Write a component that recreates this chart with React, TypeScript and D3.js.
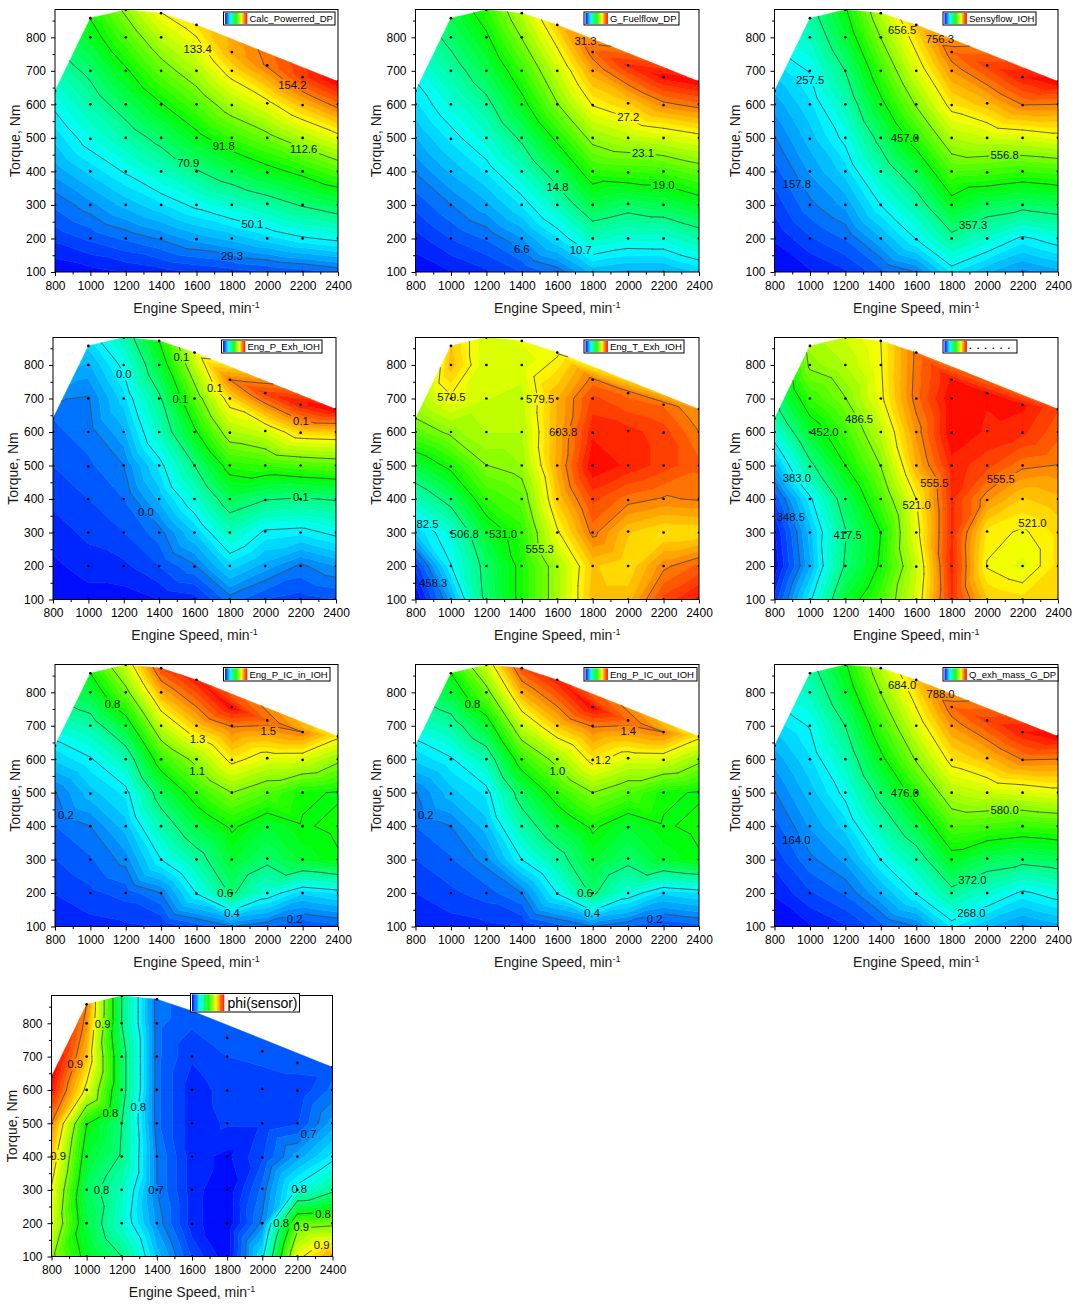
import React, { useEffect, useRef } from "react";
import * as d3 from "d3";

// ---- measured operating points ----
const speeds = [800, 1000, 1200, 1400, 1600, 1800, 2000, 2200, 2400];
const torques = [
  [100, 200, 300, 400, 500, 600, 640],
  [100, 200, 300, 400, 497, 600, 700, 800, 857],
  [100, 200, 300, 400, 500, 600, 700, 800, 882],
  [100, 200, 300, 400, 500, 600, 700, 800, 872],
  [100, 198, 300, 400, 500, 600, 700, 837],
  [100, 200, 300, 400, 500, 598, 700, 756],
  [100, 200, 303, 397, 500, 603, 716],
  [100, 200, 300, 400, 500, 598, 681],
  [100, 200, 300, 400, 500, 600, 668],
];

// ---- series values, one list per speed ----
const calcPower = [
  [9, 18, 26, 35, 43, 52, 56],
  [11, 22, 32, 43, 54, 64, 74, 86, 92],
  [13, 26, 39, 51, 64, 77, 90, 104, 115],
  [15, 30, 45, 60, 75, 91, 107, 122, 133],
  [17, 35, 52, 70, 88, 104, 120, 138],
  [19, 39, 58, 79, 100, 119, 138, 147],
  [21, 44, 65, 87, 109, 131, 155],
  [23, 49, 72, 95, 120, 144, 165],
  [26, 52, 78, 104, 130, 157, 175],
];
const fuelFlow = [
  [2.7, 3.8, 5.2, 6.7, 8.2, 9.7, 10.2],
  [3.3, 5, 6.6, 8.4, 10.1, 11.9, 13.7, 15.6, 16.6],
  [4, 5.9, 8, 10, 12.1, 14.2, 16.5, 18.6, 20.3],
  [5, 7.4, 10, 12.6, 15.3, 18.2, 20.6, 23.2, 25],
  [6.1, 9.7, 13, 16.2, 19.5, 23, 25.4, 29],
  [8.5, 12.8, 16.8, 20.3, 23.8, 27.3, 30.2, 32],
  [8, 11.9, 15.9, 20.5, 25, 28.8, 34],
  [8, 12, 16.5, 20.8, 25.7, 30.9, 35],
  [9.2, 13.5, 17.8, 22, 26.6, 31.9, 35.2],
];
const sensyFlow = [
  [60, 80, 105, 130, 156, 185, 200],
  [75, 115, 152, 180, 206, 233, 260, 305, 330],
  [95, 140, 183, 226, 268, 313, 358, 415, 450],
  [130, 195, 258, 317, 377, 442, 500, 558, 600],
  [158, 258, 325, 403, 485, 562, 627, 700],
  [240, 340, 435, 515, 595, 672, 738, 775],
  [200, 295, 395, 505, 615, 710, 805],
  [170, 250, 375, 495, 625, 756, 835],
  [190, 275, 390, 505, 640, 756, 850],
];
const pExh = [
  [0.001, 0.003, 0.006, 0.009, 0.012, 0.015, 0.016],
  [0.002, 0.006, 0.009, 0.012, 0.015, 0.018, 0.0195, 0.027, 0.033],
  [0.002, 0.007, 0.012, 0.016, 0.02, 0.027, 0.034, 0.042, 0.052],
  [0.004, 0.012, 0.018, 0.029, 0.037, 0.05, 0.058, 0.071, 0.08],
  [0.006, 0.019, 0.032, 0.046, 0.06, 0.078, 0.093, 0.115],
  [0.018, 0.034, 0.05, 0.067, 0.085, 0.106, 0.125, 0.14],
  [0.012, 0.026, 0.039, 0.06, 0.088, 0.113, 0.15],
  [0.01, 0.019, 0.037, 0.059, 0.091, 0.126, 0.155],
  [0.012, 0.024, 0.042, 0.061, 0.093, 0.128, 0.16],
];
const tExh = [
  [434, 445, 473, 495, 520, 547, 555],
  [465, 482, 490, 512, 534, 558, 578, 592, 590],
  [510, 512, 522, 540, 555, 565, 570, 570, 570],
  [535, 535, 538, 548, 560, 565, 568, 572, 575],
  [562, 562, 578, 590, 596, 595, 594, 578],
  [592, 590, 606, 615, 628, 622, 615, 606],
  [592, 585, 590, 606, 622, 620, 607],
  [615, 602, 584, 603, 616, 616, 608],
  [625, 610, 585, 604.5, 610, 603.8, 598],
];
const dotted = [
  [330, 316, 320, 335, 362, 392, 405],
  [380, 361, 365, 380, 412, 440, 465, 490, 495],
  [440, 420, 416, 429, 452, 468, 486, 500, 508],
  [470, 455, 452, 470, 487, 503, 518, 520, 521],
  [510, 505, 515, 521, 542, 550, 560, 558],
  [578, 580, 578, 578, 580, 590, 590, 585],
  [535, 520, 526, 550, 572, 582, 584],
  [530, 512, 519, 534, 558, 578, 585],
  [535, 530, 530, 540, 555, 565, 570],
];
const pIcIn = [
  [0.02, 0.06, 0.1, 0.145, 0.185, 0.33, 0.38],
  [0.04, 0.09, 0.14, 0.19, 0.3, 0.4, 0.56, 0.75, 0.85],
  [0.05, 0.12, 0.21, 0.3, 0.38, 0.54, 0.77, 1.03, 1.21],
  [0.06, 0.19, 0.41, 0.55, 0.7, 0.93, 1.18, 1.43, 1.6],
  [0.12, 0.41, 0.57, 0.74, 0.92, 1.11, 1.39, 1.68],
  [0.19, 0.65, 0.77, 0.87, 1.07, 1.32, 1.52, 1.72],
  [0.15, 0.46, 0.67, 0.76, 0.98, 1.24, 1.55],
  [0.1, 0.33, 0.78, 0.84, 0.87, 1.22, 1.51],
  [0.13, 0.37, 0.84, 0.87, 0.84, 1.1, 1.31],
];
const pIcOut = [
  [0.045, 0.08, 0.12, 0.16, 0.195, 0.33, 0.37],
  [0.06, 0.11, 0.155, 0.2, 0.3, 0.39, 0.54, 0.71, 0.8],
  [0.07, 0.14, 0.22, 0.3, 0.37, 0.52, 0.73, 0.96, 1.13],
  [0.08, 0.2, 0.4, 0.53, 0.66, 0.87, 1.1, 1.33, 1.48],
  [0.14, 0.4, 0.545, 0.7, 0.86, 1.04, 1.29, 1.55],
  [0.2, 0.62, 0.73, 0.82, 1.0, 1.23, 1.41, 1.59],
  [0.16, 0.445, 0.64, 0.72, 0.92, 1.15, 1.44],
  [0.12, 0.33, 0.735, 0.79, 0.82, 1.14, 1.4],
  [0.145, 0.36, 0.79, 0.82, 0.79, 1.03, 1.22],
];
const qExh = [
  [62, 83, 109, 135, 162, 192, 208],
  [78, 119, 158, 187, 214, 243, 271, 318, 344],
  [99, 146, 190, 235, 279, 326, 373, 432, 469],
  [135, 203, 269, 330, 393, 461, 521, 582, 625],
  [164, 269, 338, 420, 505, 586, 654, 730],
  [250, 354, 453, 537, 620, 700, 769, 808],
  [208, 307, 411, 526, 641, 740, 839],
  [177, 260, 391, 516, 651, 788, 870],
  [198, 286, 406, 526, 667, 788, 886],
];
const phi = [
  [0.865, 0.885, 0.893, 0.91, 0.93, 0.96, 0.965],
  [0.817, 0.807, 0.8, 0.812, 0.825, 0.89, 0.912, 0.925, 0.93],
  [0.79, 0.767, 0.773, 0.788, 0.79, 0.8, 0.8, 0.79, 0.79],
  [0.738, 0.725, 0.72, 0.72, 0.715, 0.715, 0.715, 0.715, 0.715],
  [0.705, 0.695, 0.695, 0.695, 0.695, 0.695, 0.7, 0.71],
  [0.687, 0.685, 0.686, 0.69, 0.7, 0.702, 0.706, 0.71],
  [0.75, 0.722, 0.715, 0.705, 0.7, 0.7, 0.71],
  [0.89, 0.85, 0.76, 0.73, 0.705, 0.7, 0.71],
  [0.92, 0.855, 0.785, 0.75, 0.73, 0.715, 0.71],
];

// ---- contour levels: lowest, spacing (seven labelled lines between) ----
const calcPowerScale = [8.5, 20.8];
const fuelFlowScale = [2.5, 4.12];
const sensyFlowScale = [58, 99.75];
const pExhScale = [0, 0.02];
const tExhScale = [434, 24.25];
const dottedScale = [314, 34.5];
const pIcInScale = [-0.03, 0.22];
const pIcOutScale = [0, 0.2];
const qExhScale = [60, 104];
const phiScale = [0.685, 0.035];

// ---- contour labels: [speed, torque, text] ----
const calcPowerLabels = [[1606, 765, "133.4"], [2142, 658, "154.2"], [1754, 476, "91.8"], [2206, 466, "112.6"], [1553, 425, "70.9"], [1916, 242, "50.1"], [1801, 148, "29.3"]];
const fuelFlowLabels = [[1759, 790, "31.3"], [2001, 561, "27.2"], [2084, 455, "23.1"], [2200, 358, "19.0"], [1601, 353, "14.8"], [1400, 168, "6.6"], [1732, 165, "10.7"]];
const sensyFlowLabels = [[1520, 822, "656.5"], [1733, 795, "756.3"], [1001, 673, "257.5"], [1536, 499, "457.0"], [2099, 449, "556.8"], [926, 362, "157.8"], [1921, 239, "357.3"]];
const pExhLabels = [[1200, 773, "0.0"], [1526, 824, "0.1"], [1715, 732, "0.1"], [1520, 698, "0.1"], [2202, 633, "0.1"], [2202, 407, "0.1"], [1325, 360, "0.0"]];
const tExhLabels = [[1003, 703, "579.5"], [1503, 698, "579.5"], [1633, 600, "603.8"], [868, 325, "82.5"], [1078, 297, "506.8"], [1294, 297, "531.0"], [1501, 250, "555.3"], [900, 148, "458.3"]];
const dottedLabels = [[1277, 640, "486.5"], [1082, 600, "452.0"], [926, 463, "383.0"], [1702, 449, "555.5"], [2077, 461, "555.5"], [1602, 381, "521.0"], [2256, 327, "521.0"], [892, 345, "348.5"], [1213, 292, "417.5"]];
const pIcInLabels = [[1125, 764, "0.8"], [2006, 683, "1.5"], [1606, 659, "1.3"], [1604, 566, "1.1"], [862, 432, "0.2"], [1762, 199, "0.6"], [1801, 139, "0.4"], [2155, 123, "0.2"]];
const pIcOutLabels = [[1122, 764, "0.8"], [2001, 683, "1.4"], [1858, 597, "1.2"], [1601, 566, "1.0"], [858, 432, "0.2"], [1757, 199, "0.6"], [1797, 139, "0.4"], [2150, 123, "0.2"]];
const qExhLabels = [[1520, 822, "684.0"], [1737, 796, "788.0"], [1536, 500, "476.0"], [2099, 449, "580.0"], [923, 360, "164.0"], [1917, 238, "372.0"], [1911, 139, "268.0"]];
const phiLabels = [[1091, 798, "0.9"], [935, 677, "0.9"], [1135, 530, "0.8"], [1294, 548, "0.8"], [2264, 468, "0.7"], [838, 402, "0.9"], [1395, 300, "0.7"], [1085, 300, "0.8"], [2211, 302, "0.8"], [2108, 200, "0.8"], [2346, 227, "0.8"], [2222, 188, "0.9"], [2338, 135, "0.9"]];

const legendNames = ["Calc_Powerred_DP", "G_Fuelflow_DP", "Sensyflow_IOH", "Eng_P_Exh_IOH", "Eng_T_Exh_IOH", ". . . . . .", "Eng_P_IC_in_IOH", "Eng_P_IC_out_IOH", "Q_exh_mass_G_DP", "phi(sensor)"];

// ---- layout ----
const W = 1089;
const H = 1308;
const BANDS = 40;
const BANDS_PER_LINE = 5;
const layout = [
  { l: 55, r: 338, t: 9.5, b: 272, y800: 37.3, lg: [223.5, 335, 12, 25] },
  { l: 415.5, r: 699, t: 9.5, b: 272, y800: 37.3, lg: [584, 679, 12, 25] },
  { l: 774.5, r: 1058, t: 9.5, b: 272, y800: 37.3, lg: [943, 1036, 12, 25] },
  { l: 53, r: 336, t: 337.5, b: 599.5, y800: 365, lg: [221.5, 322, 340, 353] },
  { l: 415.5, r: 699, t: 337.5, b: 599.5, y800: 365, lg: [584, 684, 340, 353] },
  { l: 774.5, r: 1058, t: 337.5, b: 599.5, y800: 365, lg: [943, 1017, 340, 353] },
  { l: 55, r: 338, t: 664.5, b: 926.5, y800: 692.3, lg: [223.5, 330, 667.5, 681] },
  { l: 415.5, r: 699, t: 664.5, b: 926.5, y800: 692.3, lg: [584, 697, 667.5, 681] },
  { l: 774.5, r: 1058, t: 664.5, b: 926.5, y800: 692.3, lg: [943, 1058, 667.5, 681] },
  { l: 51.5, r: 332.5, t: 995.5, b: 1256.5, y800: 1023.3, lg: [190.5, 299.5, 993.5, 1012] },
];
const series = [calcPower, fuelFlow, sensyFlow, pExh, tExh, dotted, pIcIn, pIcOut, qExh, phi];
const scales = [calcPowerScale, fuelFlowScale, sensyFlowScale, pExhScale, tExhScale, dottedScale, pIcInScale, pIcOutScale, qExhScale, phiScale];
const labels = [calcPowerLabels, fuelFlowLabels, sensyFlowLabels, pExhLabels, tExhLabels, dottedLabels, pIcInLabels, pIcOutLabels, qExhLabels, phiLabels];

const FONT = "'Liberation Sans', Arial, sans-serif";
const rainbow = d3
  .scaleLinear<string>()
  .domain([0, 0.25, 0.5, 0.75, 1])
  .range(["#0000ff", "#00ffff", "#00ff00", "#ffff00", "#ff0000"])
  .interpolate(d3.interpolateRgb as any);

type V = [number, number, number];

function clip(poly: V[], level: number, above: boolean): V[] {
  const out: V[] = [];
  const n = poly.length;
  for (let i = 0; i < n; i++) {
    const p = poly[i];
    const q = poly[(i + 1) % n];
    const pin = above ? p[2] >= level : p[2] <= level;
    const qin = above ? q[2] >= level : q[2] <= level;
    if (pin) out.push(p);
    if (pin !== qin) {
      const t = (level - p[2]) / (q[2] - p[2]);
      out.push([p[0] + t * (q[0] - p[0]), p[1] + t * (q[1] - p[1]), level]);
    }
  }
  return out;
}

function drawPanel(svg: any, idx: number) {
  const L = layout[idx];
  const [lo, step] = scales[idx];
  const x = d3.scaleLinear().domain([800, 2400]).range([L.l, L.r]);
  const pxPer = (L.b - L.y800) / 700;
  const y = d3.scaleLinear().domain([100, 100 + (L.b - L.t) / pxPer]).range([L.b, L.t]);
  const g = svg.append("g");
  const clipId = `frame${idx}`;
  svg.append("clipPath").attr("id", clipId).append("rect").attr("x", L.l).attr("y", L.t).attr("width", L.r - L.l).attr("height", L.b - L.t);

  const pts: V[] = [];
  speeds.forEach((s, c) => torques[c].forEach((t, r) => pts.push([x(s), y(t), series[idx][c][r]])));
  const del = d3.Delaunay.from(pts, (d) => d[0], (d) => d[1]);
  const tris: V[][] = [];
  for (let i = 0; i < del.triangles.length; i += 3) {
    tris.push([pts[del.triangles[i]], pts[del.triangles[i + 1]], pts[del.triangles[i + 2]]]);
  }

  const fill = g.append("g").attr("clip-path", `url(#${clipId})`);
  const bandW = step / BANDS_PER_LINE;
  for (let b = 0; b < BANDS; b++) {
    const a0 = b === 0 ? -1e9 : lo + b * bandW;
    const a1 = b === BANDS - 1 ? 1e9 : lo + (b + 1) * bandW;
    const path = d3.path();
    for (const tri of tris) {
      const poly = clip(clip(tri, a0, true), a1, false);
      if (poly.length < 3) continue;
      path.moveTo(poly[0][0], poly[0][1]);
      for (let i = 1; i < poly.length; i++) path.lineTo(poly[i][0], poly[i][1]);
      path.closePath();
    }
    const col = rainbow((b + 0.5) / BANDS);
    fill.append("path").attr("d", path.toString()).attr("fill", col).attr("stroke", col).attr("stroke-width", 0.5);
  }

  // gaps in the contour lines behind the labels
  const maskId = `gaps${idx}`;
  const mask = svg.append("mask").attr("id", maskId).attr("maskUnits", "userSpaceOnUse").attr("x", 0).attr("y", 0).attr("width", W).attr("height", H);
  mask.append("rect").attr("width", W).attr("height", H).attr("fill", "white");
  labels[idx].forEach((d: any) => {
    const w = d[2].length * 5.6 + 3;
    mask.append("rect").attr("x", x(d[0]) - w / 2).attr("y", y(d[1]) - 6).attr("width", w).attr("height", 12).attr("fill", "black");
  });

  const linePath = d3.path();
  for (let k = 1; k <= 7; k++) {
    const lv = lo + k * step + step * 1e-5;
    for (const tri of tris) {
      const cross: number[][] = [];
      for (let e = 0; e < 3; e++) {
        const p = tri[e];
        const q = tri[(e + 1) % 3];
        if (p[2] < lv !== q[2] < lv) {
          const t = (lv - p[2]) / (q[2] - p[2]);
          cross.push([p[0] + t * (q[0] - p[0]), p[1] + t * (q[1] - p[1])]);
        }
      }
      if (cross.length === 2) {
        linePath.moveTo(cross[0][0], cross[0][1]);
        linePath.lineTo(cross[1][0], cross[1][1]);
      }
    }
  }
  g.append("g").attr("clip-path", `url(#${clipId})`).append("path").attr("d", linePath.toString())
    .attr("fill", "none").attr("stroke", "#484848").attr("stroke-width", 0.85).attr("stroke-linecap", "round").attr("mask", `url(#${maskId})`);

  // measured points
  g.append("g").attr("clip-path", `url(#${clipId})`).selectAll("circle").data(pts).join("circle")
    .attr("cx", (d: V) => d[0]).attr("cy", (d: V) => d[1]).attr("r", 1.35).attr("fill", "#000");

  // contour labels
  g.append("g").selectAll("text").data(labels[idx]).join("text")
    .attr("x", (d: any) => x(d[0])).attr("y", (d: any) => y(d[1]) + 4).attr("text-anchor", "middle")
    .attr("font-family", FONT).attr("font-size", 11.3).attr("fill", "#111").text((d: any) => d[2]);

  // frame
  g.append("rect").attr("x", L.l).attr("y", L.t).attr("width", L.r - L.l).attr("height", L.b - L.t).attr("fill", "none").attr("stroke", "#000").attr("stroke-width", 1);

  // axes
  const xAxis = g.append("g").attr("transform", `translate(0,${L.b})`).call(
    d3.axisBottom(x).tickValues(d3.range(800, 2401, 200)).tickSize(4).tickPadding(5).tickFormat(d3.format("d") as any));
  const xMinor = g.append("g").attr("transform", `translate(0,${L.b})`).call(
    d3.axisBottom(x).tickValues(d3.range(900, 2400, 200)).tickSize(2.5).tickFormat(() => ""));
  const yAxis = g.append("g").attr("transform", `translate(${L.l},0)`).call(
    d3.axisLeft(y).tickValues(d3.range(100, 801, 100)).tickSize(4).tickPadding(5).tickFormat(d3.format("d") as any));
  const yMinor = g.append("g").attr("transform", `translate(${L.l},0)`).call(
    d3.axisLeft(y).tickValues(d3.range(150, 851, 100)).tickSize(2.5).tickFormat(() => ""));
  [xAxis, xMinor, yAxis, yMinor].forEach((a) => {
    a.select(".domain").remove();
    a.selectAll("text").attr("font-family", FONT).attr("font-size", 12).attr("fill", "#000");
    a.selectAll("line").attr("stroke", "#000");
  });

  // titles
  const xt = g.append("text").attr("x", (L.l + L.r) / 2).attr("y", L.b + 40.5).attr("text-anchor", "middle")
    .attr("font-family", FONT).attr("font-size", 14).attr("fill", "#1a1a1a");
  xt.append("tspan").text("Engine Speed, min");
  xt.append("tspan").attr("dy", -5).attr("font-size", 9).text("-1");
  g.append("text").attr("transform", `translate(${L.l - 35},${(L.t + L.b) / 2}) rotate(-90)`).attr("text-anchor", "middle")
    .attr("font-family", FONT).attr("font-size", 14).attr("fill", "#1a1a1a").text("Torque, Nm");

  // legend
  const [lx0, lx1, ly0, ly1] = L.lg;
  const big = idx === 9;
  g.append("rect").attr("x", lx0).attr("y", ly0).attr("width", lx1 - lx0).attr("height", ly1 - ly0).attr("fill", "#fff").attr("stroke", "#000").attr("stroke-width", 1);
  const swL = lx0 + 1.5;
  const swW = big ? 32 : 22;
  const swatch = d3.scaleLinear().domain([0, BANDS]).range([swL, swL + swW]);
  g.append("g").selectAll("rect").data(d3.range(BANDS)).join("rect")
    .attr("x", (d: number) => swatch(d)).attr("y", ly0 + 1).attr("width", swW / BANDS + 0.3).attr("height", ly1 - ly0 - 2)
    .attr("fill", (d: number) => rainbow((d + 0.5) / BANDS));
  const lt = g.append("text").attr("x", swL + swW + (big ? 3.5 : 2.5)).attr("y", big ? ly1 - 4.5 : ly1 - 3.3)
    .attr("font-family", FONT).attr("font-size", big ? 14 : 9.5).attr("fill", "#000").text(legendNames[idx]);
  if (idx === 5) lt.attr("letter-spacing", 1.2).attr("font-weight", "bold").attr("y", ly1 - 4);
}

export default function App() {
  const ref = useRef<SVGSVGElement | null>(null);
  useEffect(() => {
    const svg = d3.select(ref.current);
    svg.selectAll("*").remove();
    layout.forEach((_, i) => drawPanel(svg, i));
  }, []);
  return <svg ref={ref} width={W} height={H} style={{ position: "absolute", left: 0, top: 0, background: "#fff" }} />;
}
